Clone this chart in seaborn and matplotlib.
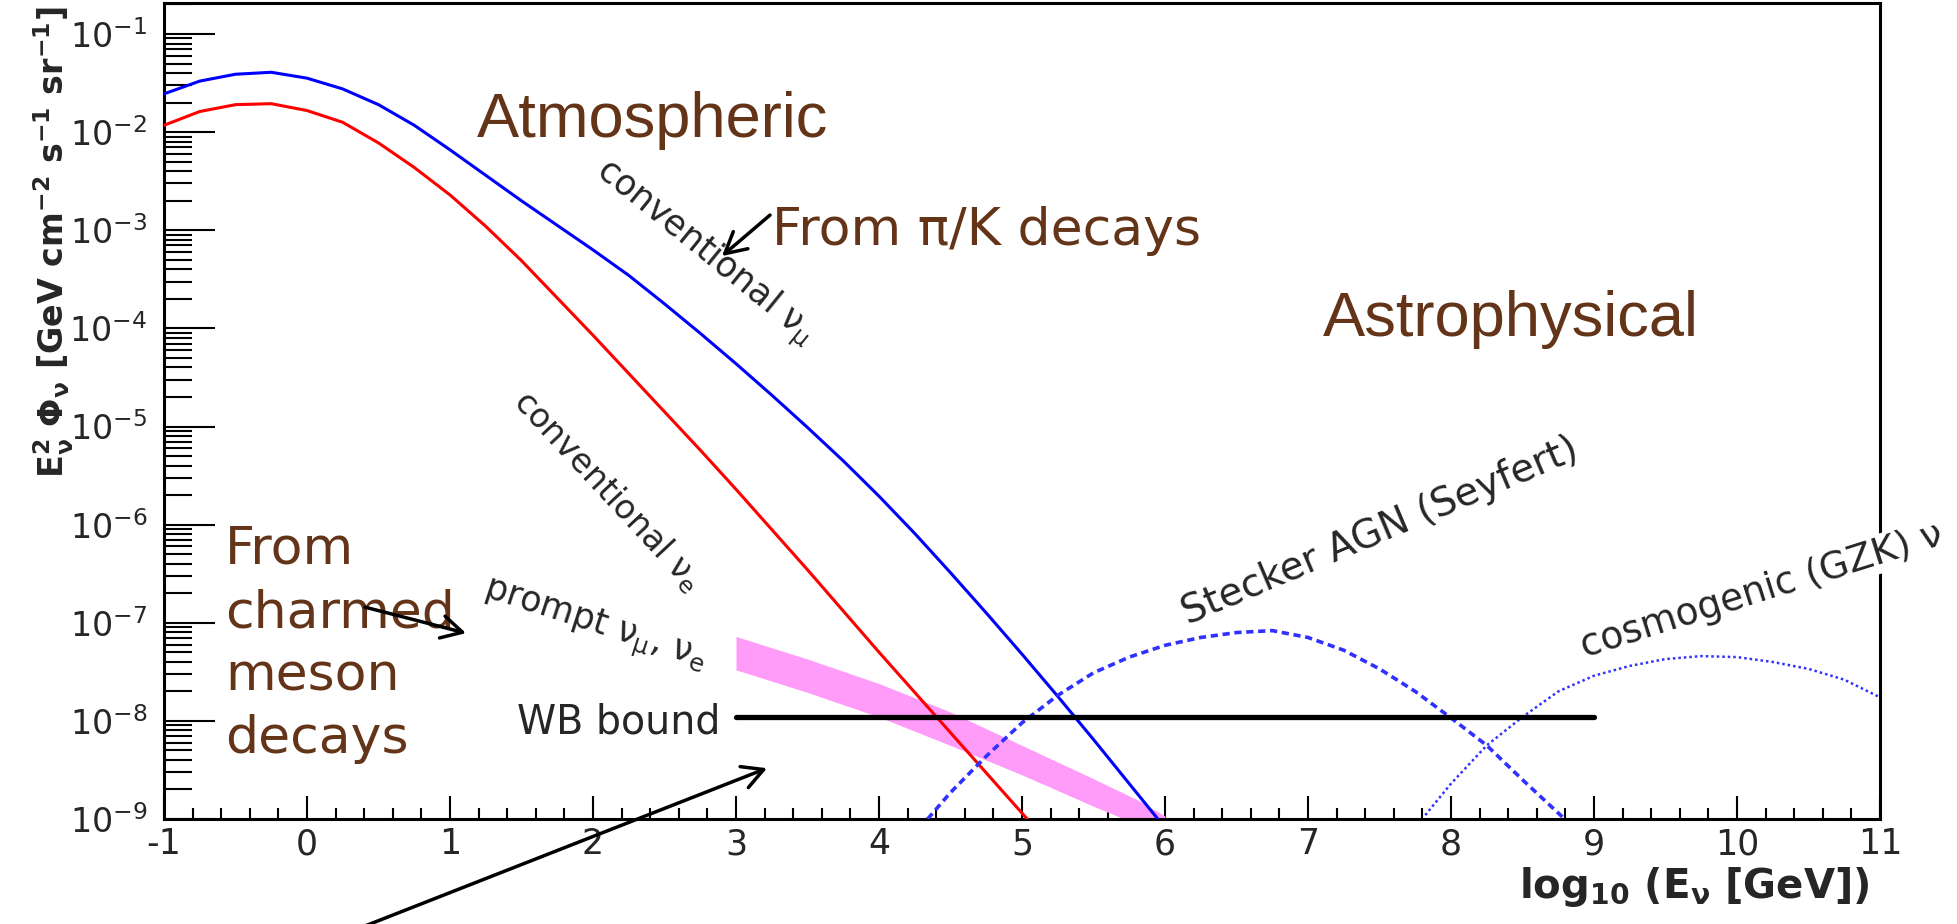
import matplotlib
matplotlib.use("Agg")
import numpy as np
import pandas as pd
import matplotlib.pyplot as plt
import seaborn as sns
from matplotlib.patches import FancyArrowPatch
from matplotlib.ticker import LogLocator, LogFormatterSciNotation, MultipleLocator, NullFormatter

# ---- data: x = log10(E_nu / GeV), y = log10(E^2 Phi / GeV cm^-2 s^-1 sr^-1) ----
numu_logE = [-1.00, -0.75, -0.50, -0.25, 0.00, 0.25, 0.50, 0.75, 1.00, 1.25, 1.50, 1.75,
             2.00, 2.25, 2.50, 2.75, 3.00, 3.25, 3.50, 3.75, 4.00, 4.25, 4.50, 4.75,
             5.00, 5.25, 5.50, 5.75, 6.00]
numu_logF = [-1.61, -1.48, -1.41, -1.39, -1.45, -1.56, -1.72, -1.93, -2.18, -2.44, -2.70, -2.95,
             -3.20, -3.46, -3.75, -4.05, -4.36, -4.68, -5.01, -5.35, -5.71, -6.09, -6.49, -6.90,
             -7.32, -7.75, -8.19, -8.64, -9.09]

nue_logE = [-1.00, -0.75, -0.50, -0.25, 0.00, 0.25, 0.50, 0.75, 1.00, 1.25, 1.50, 1.75,
            2.00, 2.25, 2.50, 2.75, 3.00, 3.25, 3.50, 3.75, 4.00, 4.25, 4.50, 4.75,
            5.00, 5.15]
nue_logF = [-1.93, -1.79, -1.72, -1.71, -1.78, -1.90, -2.11, -2.36, -2.64, -2.96, -3.31, -3.69,
            -4.07, -4.46, -4.85, -5.24, -5.64, -6.05, -6.46, -6.88, -7.30, -7.71, -8.12, -8.53,
            -8.94, -9.19]

prompt_logE = [3.0, 3.5, 4.0, 4.5, 5.0, 5.5, 5.8, 6.0]
prompt_upper = [-7.14, -7.37, -7.62, -7.91, -8.25, -8.59, -8.80, -8.97]
prompt_lower = [-7.48, -7.71, -7.96, -8.25, -8.55, -8.87, -9.05, -9.25]

wb_logE = [3.0, 9.0]
wb_flux = 1.1e-8

agn_logE = [4.34, 4.50, 4.75, 5.00, 5.25, 5.50, 5.75, 6.00, 6.25, 6.50, 6.75, 7.00,
            7.25, 7.50, 7.75, 8.00, 8.25, 8.50, 8.78]
agn_logF = [-9.00, -8.73, -8.36, -8.02, -7.74, -7.51, -7.35, -7.23, -7.15, -7.10, -7.08, -7.15,
            -7.28, -7.47, -7.70, -7.97, -8.25, -8.60, -8.98]

gzk_logE = [7.82, 8.00, 8.25, 8.50, 8.75, 9.00, 9.25, 9.50, 9.75, 10.00, 10.25, 10.50,
            10.75, 11.00]
gzk_logF = [-8.96, -8.64, -8.25, -7.96, -7.70, -7.54, -7.44, -7.37, -7.34, -7.35, -7.40, -7.47,
            -7.58, -7.76]

x_ticks = list(range(-1, 12))

# ---- style ----
sns.set_theme(style="white")
plt.rcParams["font.family"] = ["DejaVu Sans"]
plt.rcParams["mathtext.fontset"] = "dejavusans"
plt.rcParams["mathtext.default"] = "regular"
plt.rcParams["axes.unicode_minus"] = False

BROWN = "#643419"
BLUE = "#0000ff"
RED = "#ff0000"
DASHBLUE = "#3030ff"
PINK = "#ff9bf8"

fig = plt.figure(figsize=(19.58, 9.24), dpi=100)
ax = fig.add_axes([164 / 1958, 1 - 819 / 924, (1880 - 164) / 1958, (819 - 3) / 924])
ax.set_yscale("log")


def curve(logE, logF, **kw):
    df = pd.DataFrame({"logE": logE, "flux": np.power(10.0, logF)})
    sns.lineplot(data=df, x="logE", y="flux", ax=ax, estimator=None, sort=False,
                 legend=False, **kw)


# prompt band
ax.fill_between(prompt_logE, np.power(10.0, prompt_lower), np.power(10.0, prompt_upper),
                color=PINK, lw=0, zorder=1)

curve(numu_logE, numu_logF, color=BLUE, linewidth=2.2, zorder=3)
curve(nue_logE, nue_logF, color=RED, linewidth=2.2, zorder=3)
curve(agn_logE, agn_logF, color=DASHBLUE, linewidth=2.6, linestyle=(0, (2.0, 1.3)), zorder=3)
curve(gzk_logE, gzk_logF, color=DASHBLUE, linewidth=1.8, linestyle=(0, (1.0, 1.2)), zorder=3)
curve(wb_logE, [np.log10(wb_flux)] * 2, color="black", linewidth=3.8, zorder=4)

# ---- axes ----
ax.set_xlim(-1, 11)
ax.set_ylim(1e-9, 10 ** -0.684)
ax.set_xticks(x_ticks)
ax.xaxis.set_minor_locator(MultipleLocator(0.2))
ax.yaxis.set_major_locator(LogLocator(base=10, numticks=20))
ax.yaxis.set_minor_locator(LogLocator(base=10, subs=np.arange(2, 10), numticks=50))
ax.yaxis.set_major_formatter(LogFormatterSciNotation())
ax.yaxis.set_minor_formatter(NullFormatter())

for s in ax.spines.values():
    s.set_linewidth(2.2)
    s.set_color("black")
    s.set_visible(True)

ax.tick_params(axis="y", which="major", direction="in", length=37, width=1.5,
               labelsize=24, pad=12, right=False, left=True, color="black")
ax.tick_params(axis="y", which="minor", direction="in", length=20, width=1.5,
               right=False, left=True, color="black")
ax.tick_params(axis="x", which="major", direction="in", length=16.5, width=1.5,
               labelsize=25, pad=6, top=False, bottom=True, color="black")
ax.tick_params(axis="x", which="minor", direction="in", length=8, width=1.5,
               top=False, bottom=True, color="black")
ax.grid(False)

ax.set_xlabel("log$_{10}$ (E$_{ν}$ [GeV])", fontsize=29, fontweight="bold")
ax.xaxis.set_label_coords(1 - 10 / 1716, -46 / 816)
ax.xaxis.label.set_ha("right")
ax.xaxis.label.set_va("top")

ax.set_ylabel("E$^{2}_{ν}$ Φ$_{ν}$ [GeV cm$^{-2}$ s$^{-1}$ sr$^{-1}$]", fontsize=24,
              fontweight="bold")
ax.yaxis.set_label_coords(-88 / 1716, 1 - 3 / 816)
ax.yaxis.label.set_ha("right")


def P(logE, logF):
    return (logE, 10 ** logF)


# ---- black curve labels ----
ax.text(*P(2.007, -2.43), "conventional $ν_{μ}$", fontsize=25, rotation=-39,
        rotation_mode="anchor", ha="left", va="baseline", zorder=6)
ax.text(*P(1.434, -4.76), "conventional $ν_{e}$", fontsize=24, rotation=-47,
        rotation_mode="anchor", ha="left", va="baseline", zorder=6)
ax.text(*P(1.224, -6.73), "prompt $ν_{μ}$, $ν_{e}$", fontsize=25, rotation=-18,
        rotation_mode="anchor", ha="left", va="baseline", zorder=6)
ax.text(*P(2.89, -8.125), "WB bound", fontsize=28.5, ha="right", va="baseline", zorder=6)
ax.text(*P(6.161, -7.02), "Stecker AGN (Seyfert)", fontsize=28, rotation=23,
        rotation_mode="anchor", ha="left", va="baseline", zorder=6, clip_on=False,
        bbox=dict(facecolor="white", edgecolor="none", pad=1))
ax.text(*P(8.937, -7.35), "cosmogenic (GZK) ν", fontsize=27, rotation=17.5,
        rotation_mode="anchor", ha="left", va="baseline", zorder=6, clip_on=False,
        bbox=dict(facecolor="white", edgecolor="none", pad=1))

# ---- brown annotations ----
sans_fam = ["Liberation Sans", "DejaVu Sans"]
ax.text(*P(1.189, -2.05), "Atmospheric", fontsize=45.5, color=BROWN, family=sans_fam,
        ha="left", va="baseline", zorder=7)
ax.text(*P(7.105, -4.078), "Astrophysical", fontsize=45.5, color=BROWN, family=sans_fam,
        ha="left", va="baseline", zorder=7)
ax.text(*P(3.252, -3.151), "From π/K decays", fontsize=37.5, color=BROWN,
        ha="left", va="baseline", zorder=7)
charm_lines = ["From", "charmed", "meson", "decays"]
charm_base = [-6.393, -7.045, -7.687, -8.329]
for word, lf in zip(charm_lines, charm_base):
    ax.text(*P(-0.573, lf), word, fontsize=37.5, color=BROWN, ha="left",
            va="baseline", zorder=7)

# ---- pointer arrows ----
arrows = [
    (P(3.238, -2.845), P(2.902, -3.263)),
    (P(0.406, -6.841), P(1.112, -7.106)),
    (P(0.336, -10.13), P(3.217, -8.482)),
]
for tail, head in arrows:
    ax.add_patch(FancyArrowPatch(tail, head,
                                 arrowstyle="->,head_length=0.5,head_width=0.27",
                                 lw=2.5, color="black", shrinkA=0, shrinkB=0,
                                 mutation_scale=30, clip_on=False, zorder=8))

fig.savefig("out.png", dpi=100, facecolor="white")
